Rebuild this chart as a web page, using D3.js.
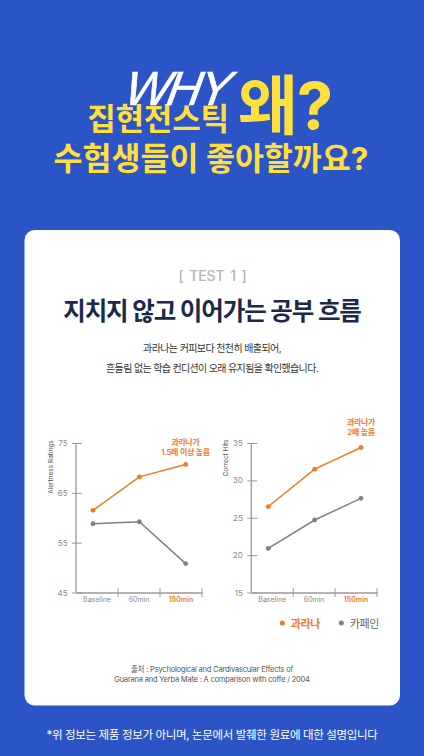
<!DOCTYPE html>
<html lang="ko">
<head>
<meta charset="utf-8">
<script src="https://cdn.jsdelivr.net/npm/d3@7"></script>
<style>
  html, body { margin: 0; padding: 0; background: #2b55c6; overflow: hidden; }
  svg { display: block; }
  text { font-family: Inter, "Noto Sans CJK KR", sans-serif; }
</style>
</head>
<body>
<svg id="chart"></svg>
<script>
// Data
const timepoints = ["Baseline", "60min", "150min"];
const alertGuarana = [61.5, 68.2, 70.7];
const alertCaffeine = [58.8, 59.2, 50.8];
const alertTicks = [45, 55, 65, 75];
const hitsGuarana = [26.5, 31.5, 34.4];
const hitsCaffeine = [20.9, 24.7, 27.6];
const hitsTicks = [15, 20, 25, 30, 35];
const legendNames = ["과라나", "카페인"];

const orange = "#f47a1f", gray = "#808080", axisGray = "#9a9a9a", navy = "#1b2a4a";

const svg = d3.select("#chart").attr("width", 424).attr("height", 756);

svg.append("rect").attr("width", 424).attr("height", 756).attr("fill", "#2b55c6");
svg.append("rect").attr("x", 24.5).attr("y", 230).attr("width", 375.5).attr("height", 475.5)
    .attr("rx", 10).attr("fill", "#fff");

function label(x, y, str, size, color, weight, anchor) {
    return svg.append("text")
        .attr("x", x).attr("y", y)
        .attr("text-anchor", anchor || "middle")
        .attr("font-size", size)
        .attr("font-weight", weight || 400)
        .attr("fill", color)
        .text(str);
}

// Headline
label(158, 130, "집현전스틱", 31, "#ffdf3e", 700).attr("letter-spacing", "-0.2px");
label(285, 129, "왜?", 65, "#ffdf3e", 700).attr("letter-spacing", "-1px");
label(211, 170, "수험생들이 좋아할까요?", 31.5, "#ffdf3e", 700);
svg.append("text")
    .attr("transform", "translate(172,105) skewX(-20)")
    .attr("text-anchor", "middle")
    .attr("font-size", 48)
    .attr("letter-spacing", "-3px")
    .attr("fill", "#fff")
    .attr("stroke", "#fff")
    .attr("stroke-width", 0.6)
    .style("font-family", "'Liberation Sans', sans-serif")
    .text("WHY");

// Card text
label(212.5, 281, "[ TEST 1 ]", 14, "#b5b5b5", 500).attr("word-spacing", "2px").attr("letter-spacing", "-0.1px");
label(212, 320, "지치지 않고 이어가는 공부 흐름", 24.5, navy, 700).attr("letter-spacing", "-1.1px");
label(212, 352, "과라나는 커피보다 천천히 배출되어,", 10, "#333", 400).attr("letter-spacing", "-0.6px");
label(212, 372, "흔들림 없는 학습 컨디션이 오래 유지됨을 확인했습니다.", 10, "#333", 400).attr("letter-spacing", "-0.65px");

function drawPanel(opts) {
    const y = d3.scaleLinear().domain(opts.domain).range([592.5, 443]);
    const band = d3.scaleBand().domain(timepoints).range(opts.axisRange);
    const x = d3.scalePoint().domain(timepoints).range(opts.pointRange);
    const g = svg.append("g");

    const yAxis = g.append("g")
        .attr("transform", `translate(${opts.axisRange[0]},0)`)
        .call(d3.axisLeft(y).tickValues(opts.ticks).tickSize(6).tickPadding(3).tickFormat(d3.format("d")));
    yAxis.selectAll("line").attr("x1", -4).attr("x2", 6).attr("stroke", axisGray).attr("stroke-width", 1);
    yAxis.select(".domain").attr("d", `M0,${y.range()[1]}V${y.range()[0]}`).attr("stroke", axisGray).attr("stroke-width", 1.3);
    yAxis.selectAll("text").attr("x", -8.5).attr("font-size", 8).attr("fill", "#8a8a8a")
        .style("font-family", "Inter");

    const xAxis = g.append("g")
        .attr("transform", `translate(0,${y.range()[0]})`)
        .call(d3.axisBottom(band).tickSize(0).tickSizeOuter(0).tickPadding(5));
    xAxis.select(".domain").attr("stroke", axisGray).attr("stroke-width", 1.3);
    xAxis.selectAll("text")
        .attr("font-size", 7)
        .attr("fill", d => d === "150min" ? orange : "#8a8a8a")
        .attr("font-weight", d => d === "150min" ? 600 : 400)
        .style("font-family", "Inter");

    // separators between the time bands
    xAxis.selectAll("line.sep")
        .data(timepoints.slice(1).concat("end"))
        .enter().append("line")
        .attr("class", "sep")
        .attr("x1", d => d === "end" ? band.range()[1] : band(d))
        .attr("x2", d => d === "end" ? band.range()[1] : band(d))
        .attr("y1", -4.5).attr("y2", 4.5)
        .attr("stroke", axisGray);

    const line = d3.line().x((d, i) => x(timepoints[i])).y(d => y(d));
    [[opts.caffeine, gray], [opts.guarana, orange]].forEach(([values, color]) => {
        g.append("path").attr("d", line(values)).attr("fill", "none")
            .attr("stroke", color).attr("stroke-width", 1.5);
        g.selectAll(null).data(values).enter().append("circle")
            .attr("cx", (d, i) => x(timepoints[i])).attr("cy", d => y(d))
            .attr("r", 2.4).attr("fill", color);
    });

    svg.append("text")
        .attr("transform", `translate(${opts.axisRange[0] - 23.5},${opts.titleY}) rotate(-90)`)
        .attr("text-anchor", "middle")
        .attr("font-size", 6.5)
        .attr("fill", "#555")
        .text(opts.title);

    opts.note.forEach((str, i) => {
        label(opts.noteX, opts.noteY + i * 10, str, 8, orange, 600).attr("letter-spacing", "-0.3px");
    });
}

drawPanel({
    domain: [45, 75], ticks: alertTicks, axisRange: [76, 202], pointRange: [93, 185.7],
    guarana: alertGuarana, caffeine: alertCaffeine,
    title: "Alertness Ratings", titleY: 467,
    note: ["과라나가", "1.5배 이상 높음"], noteX: 185.5, noteY: 445
});
drawPanel({
    domain: [15, 35], ticks: hitsTicks, axisRange: [251.3, 377], pointRange: [268.3, 361],
    guarana: hitsGuarana, caffeine: hitsCaffeine,
    title: "Correct Hits", titleY: 458,
    note: ["과라나가", "2배 높음"], noteX: 361, noteY: 425
});

// Legend
const legendX = d3.scalePoint().domain(legendNames).range([282.3, 341.3]);
const legendColor = d3.scaleOrdinal().domain(legendNames).range([orange, gray]);
legendNames.forEach(name => {
    svg.append("circle").attr("cx", legendX(name)).attr("cy", 623).attr("r", 2.5).attr("fill", legendColor(name));
    label(legendX(name) + 8.5, 628, name, 11, name === "과라나" ? orange : "#666", name === "과라나" ? 700 : 400, "start")
        .attr("letter-spacing", "-0.4px");
});

// Source and footnote
label(212, 672, "출처 : Psychological and Cardivascular Effects of", 7.5, "#555").attr("letter-spacing", "-0.2px");
label(212, 682, "Guarana and Yerba Mate : A comparison with coffe / 2004", 7.5, "#555").attr("letter-spacing", "-0.2px");
label(212, 738.5, "*위 정보는 제품 정보가 아니며, 논문에서 발췌한 원료에 대한 설명입니다", 11.5, "#fff", 400).attr("letter-spacing", "-0.35px");
</script>
</body>
</html>
